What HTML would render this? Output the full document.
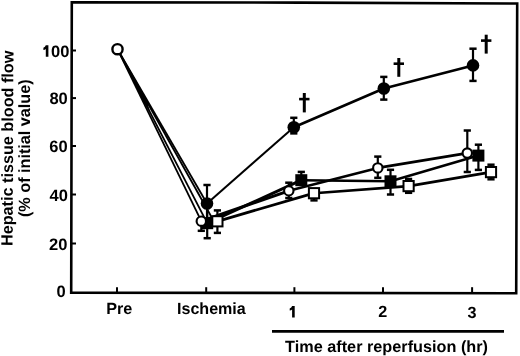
<!DOCTYPE html>
<html><head><meta charset="utf-8"><style>
html,body{margin:0;padding:0;background:#fff;}
body{width:520px;height:356px;overflow:hidden;}
svg{display:block;filter:grayscale(1);}
.t{font-family:"Liberation Sans",sans-serif;font-weight:bold;fill:#000;stroke:none;text-rendering:geometricPrecision;}
</style></head><body>
<svg width="520" height="356" viewBox="0 0 520 356">
<g stroke="#000" fill="none">
<path d="M71.8,2.4 L300,2.6 L517.2,3.5 L516.2,293.2 L71.2,292.6 Z" stroke-width="2.6" stroke-linejoin="miter"/>
<line x1="72" y1="50.5" x2="76" y2="50.5" stroke-width="2"/><line x1="72" y1="98.1" x2="76" y2="98.1" stroke-width="2"/><line x1="72" y1="146.0" x2="76" y2="146.0" stroke-width="2"/><line x1="72" y1="194.5" x2="76" y2="194.5" stroke-width="2"/><line x1="72" y1="243.5" x2="76" y2="243.5" stroke-width="2"/><line x1="117" y1="287.2" x2="117" y2="292.5" stroke-width="2"/><line x1="206.2" y1="287.2" x2="206.2" y2="292.5" stroke-width="2"/><line x1="294.4" y1="287.2" x2="294.4" y2="292.5" stroke-width="2"/><line x1="383" y1="287.2" x2="383" y2="292.5" stroke-width="2"/><line x1="472.1" y1="287.2" x2="472.1" y2="292.5" stroke-width="2"/>
<line x1="272" y1="331.4" x2="504" y2="331.4" stroke-width="2.6"/>
<path d="M117.5,49.2 L142.25,100 L149.87,112 L146.97,100 Z" fill="#000" stroke="none"/><line x1="117.5" y1="49.2" x2="207" y2="203.5" stroke-width="1.8"/><line x1="207" y1="203.5" x2="293.8" y2="127.2" stroke-width="2.0"/><path d="M293.8,127.2 L383.8,88.5 L473,65.4" fill="none" stroke-width="2.6" stroke-linejoin="round"/><line x1="117.5" y1="49.2" x2="201.3" y2="221.2" stroke-width="1.8"/><line x1="201.3" y1="221.2" x2="288.8" y2="190.8" stroke-width="3.0"/><path d="M288.8,190.8 L377.8,167.9 L467.3,153.1" fill="none" stroke-width="2.6" stroke-linejoin="round"/><line x1="117.5" y1="49.2" x2="207.2" y2="223.2" stroke-width="1.8"/><line x1="207.2" y1="223.2" x2="301.3" y2="180.2" stroke-width="3.0"/><path d="M301.3,180.2 L390.5,181.3 L478.4,155.6" fill="none" stroke-width="2.6" stroke-linejoin="round"/><line x1="117.5" y1="49.2" x2="214" y2="221.5" stroke-width="1.8"/><line x1="217.4" y1="221.3" x2="314" y2="193.2" stroke-width="2.8"/><path d="M314,193.2 L408.6,186.1 L491,172.1" fill="none" stroke-width="2.6" stroke-linejoin="round"/>
<line x1="207" y1="185" x2="207" y2="203.5" stroke-width="2.2"/><line x1="203.4" y1="185" x2="210.6" y2="185" stroke-width="2.5"/><line x1="207" y1="203.5" x2="207" y2="222" stroke-width="2.2"/><line x1="203.4" y1="222" x2="210.6" y2="222" stroke-width="2.5"/><line x1="293.8" y1="117.8" x2="293.8" y2="127.2" stroke-width="2.2"/><line x1="290.2" y1="117.8" x2="297.40000000000003" y2="117.8" stroke-width="2.5"/><line x1="293.8" y1="127.2" x2="293.8" y2="133.4" stroke-width="2.2"/><line x1="290.2" y1="133.4" x2="297.40000000000003" y2="133.4" stroke-width="2.5"/><line x1="383.8" y1="76.9" x2="383.8" y2="88.5" stroke-width="2.2"/><line x1="380.2" y1="76.9" x2="387.40000000000003" y2="76.9" stroke-width="2.5"/><line x1="383.8" y1="88.5" x2="383.8" y2="99.6" stroke-width="2.2"/><line x1="380.2" y1="99.6" x2="387.40000000000003" y2="99.6" stroke-width="2.5"/><line x1="473" y1="48.7" x2="473" y2="65.4" stroke-width="2.2"/><line x1="469.4" y1="48.7" x2="476.6" y2="48.7" stroke-width="2.5"/><line x1="473" y1="65.4" x2="473" y2="80.9" stroke-width="2.2"/><line x1="469.4" y1="80.9" x2="476.6" y2="80.9" stroke-width="2.5"/><line x1="201.3" y1="221.2" x2="201.3" y2="230.8" stroke-width="2.2"/><line x1="197.70000000000002" y1="230.8" x2="204.9" y2="230.8" stroke-width="2.5"/><line x1="288.8" y1="182.7" x2="288.8" y2="190.8" stroke-width="2.2"/><line x1="285.2" y1="182.7" x2="292.40000000000003" y2="182.7" stroke-width="2.5"/><line x1="288.8" y1="190.8" x2="288.8" y2="198" stroke-width="2.2"/><line x1="285.2" y1="198" x2="292.40000000000003" y2="198" stroke-width="2.5"/><line x1="377.8" y1="156.6" x2="377.8" y2="167.9" stroke-width="2.2"/><line x1="374.2" y1="156.6" x2="381.40000000000003" y2="156.6" stroke-width="2.5"/><line x1="377.8" y1="167.9" x2="377.8" y2="177.8" stroke-width="2.2"/><line x1="374.2" y1="177.8" x2="381.40000000000003" y2="177.8" stroke-width="2.5"/><line x1="467.3" y1="130.5" x2="467.3" y2="153.1" stroke-width="2.2"/><line x1="463.7" y1="130.5" x2="470.90000000000003" y2="130.5" stroke-width="2.5"/><line x1="467.3" y1="153.1" x2="467.3" y2="172" stroke-width="2.2"/><line x1="463.7" y1="172" x2="470.90000000000003" y2="172" stroke-width="2.5"/><line x1="207.2" y1="206" x2="207.2" y2="223.2" stroke-width="2.2"/><line x1="203.6" y1="206" x2="210.79999999999998" y2="206" stroke-width="2.5"/><line x1="207.2" y1="223.2" x2="207.2" y2="238.2" stroke-width="2.2"/><line x1="203.6" y1="238.2" x2="210.79999999999998" y2="238.2" stroke-width="2.5"/><line x1="301.3" y1="171.9" x2="301.3" y2="180.2" stroke-width="2.2"/><line x1="297.7" y1="171.9" x2="304.90000000000003" y2="171.9" stroke-width="2.5"/><line x1="390.5" y1="169.8" x2="390.5" y2="181.3" stroke-width="2.2"/><line x1="386.9" y1="169.8" x2="394.1" y2="169.8" stroke-width="2.5"/><line x1="390.5" y1="181.3" x2="390.5" y2="194.5" stroke-width="2.2"/><line x1="386.9" y1="194.5" x2="394.1" y2="194.5" stroke-width="2.5"/><line x1="478.4" y1="144.7" x2="478.4" y2="155.6" stroke-width="2.2"/><line x1="474.79999999999995" y1="144.7" x2="482.0" y2="144.7" stroke-width="2.5"/><line x1="478.4" y1="155.6" x2="478.4" y2="169.9" stroke-width="2.2"/><line x1="474.79999999999995" y1="169.9" x2="482.0" y2="169.9" stroke-width="2.5"/><line x1="217.4" y1="210.4" x2="217.4" y2="221.3" stroke-width="2.2"/><line x1="213.8" y1="210.4" x2="221.0" y2="210.4" stroke-width="2.5"/><line x1="217.4" y1="221.3" x2="217.4" y2="232.9" stroke-width="2.2"/><line x1="213.8" y1="232.9" x2="221.0" y2="232.9" stroke-width="2.5"/><line x1="314" y1="193.2" x2="314" y2="200.4" stroke-width="2.2"/><line x1="310.4" y1="200.4" x2="317.6" y2="200.4" stroke-width="2.5"/><line x1="408.6" y1="179" x2="408.6" y2="186.1" stroke-width="2.2"/><line x1="405.0" y1="179" x2="412.20000000000005" y2="179" stroke-width="2.5"/><line x1="408.6" y1="186.1" x2="408.6" y2="192.8" stroke-width="2.2"/><line x1="405.0" y1="192.8" x2="412.20000000000005" y2="192.8" stroke-width="2.5"/><line x1="491" y1="164.7" x2="491" y2="172.1" stroke-width="2.2"/><line x1="487.4" y1="164.7" x2="494.6" y2="164.7" stroke-width="2.5"/><line x1="491" y1="172.1" x2="491" y2="179.3" stroke-width="2.2"/><line x1="487.4" y1="179.3" x2="494.6" y2="179.3" stroke-width="2.5"/>
<rect x="201.2" y="217.2" width="12" height="12" fill="#000" stroke="none"/><rect x="295.3" y="174.2" width="12" height="12" fill="#000" stroke="none"/><rect x="384.5" y="175.3" width="12" height="12" fill="#000" stroke="none"/><rect x="472.4" y="149.6" width="12" height="12" fill="#000" stroke="none"/><circle cx="207" cy="203.5" r="6.3" fill="#000" stroke="none"/><circle cx="293.8" cy="127.2" r="6.3" fill="#000" stroke="none"/><circle cx="383.8" cy="88.5" r="6.3" fill="#000" stroke="none"/><circle cx="473" cy="65.4" r="6.3" fill="#000" stroke="none"/><rect x="212.3" y="216.20000000000002" width="10.2" height="10.2" fill="#fff" stroke-width="2.0"/><rect x="308.9" y="188.1" width="10.2" height="10.2" fill="#fff" stroke-width="2.0"/><rect x="403.5" y="181.0" width="10.2" height="10.2" fill="#fff" stroke-width="2.0"/><rect x="485.9" y="167.0" width="10.2" height="10.2" fill="#fff" stroke-width="2.0"/><circle cx="201.3" cy="221.2" r="4.7" fill="#fff" stroke-width="2.1"/><circle cx="288.8" cy="190.8" r="4.7" fill="#fff" stroke-width="2.1"/><circle cx="377.8" cy="167.9" r="4.7" fill="#fff" stroke-width="2.1"/><circle cx="467.3" cy="153.1" r="4.7" fill="#fff" stroke-width="2.1"/><circle cx="117.5" cy="49.2" r="5.1" fill="#fff" stroke-width="2.4"/>
</g>
<g fill="#000"><rect x="302.8" y="93" width="3.0" height="19.400000000000006"/><rect x="299.1" y="97.8" width="10.4" height="2.6"/><rect x="397.3" y="58" width="3.0" height="18.799999999999997"/><rect x="393.6" y="62.4" width="10.4" height="2.6"/><rect x="484.7" y="34.7" width="3.0" height="18.9"/><rect x="481.0" y="39.3" width="10.4" height="2.6"/></g>
<text transform="translate(49.43,104.28)" style="font-size:16.5px" class="t">80</text><text transform="translate(49.37,152.28)" style="font-size:16.5px" class="t">60</text><text transform="translate(49.54,200.64)" style="font-size:16.5px" class="t">40</text><text transform="translate(48.95,249.64)" style="font-size:16.5px" class="t">20</text><text transform="translate(56.57,296.55)" style="font-size:16.5px" class="t">0</text><text transform="translate(12.60,246.03) rotate(-89.75) scale(0.9954,1)" style="font-size:16.3px" class="t">Hepatic tissue blood flow</text><text transform="translate(30.30,217.02) rotate(-90) scale(0.9945,1)" style="font-size:16.3px" class="t">(% of initial value)</text>
<text transform="translate(106.20,314.07)" style="font-size:16.2px" class="t">Pre</text><text transform="translate(176.98,313.97) scale(0.9928,1)" style="font-size:16.2px" class="t">Ischemia</text><text transform="translate(378.21,317.30)" style="font-size:16.2px" class="t">2</text><text transform="translate(467.59,317.67)" style="font-size:16.2px" class="t">3</text><text transform="translate(285.10,351.60) scale(1.0039,1)" style="font-size:16.2px" class="t">Time after reperfusion (hr)</text>
<path d="M292.1,306 L294.70,306 L294.70,317.4 L292.1,317.4 L292.1,309.60 Q291.20,310.40 289.70,310.60 L289.70,308.40 Q291.60,307.80 292.1,306 Z" fill="#000"/><path d="M45.8,45.3 L48.40,45.3 L48.40,56.8 L45.8,56.8 L45.8,48.90 Q44.90,49.70 43.40,49.90 L43.40,47.70 Q45.30,47.10 45.8,45.3 Z" fill="#000"/><text transform="translate(51.00,56.59)" style="font-size:16.5px" class="t">00</text>
</svg>
</body></html>
